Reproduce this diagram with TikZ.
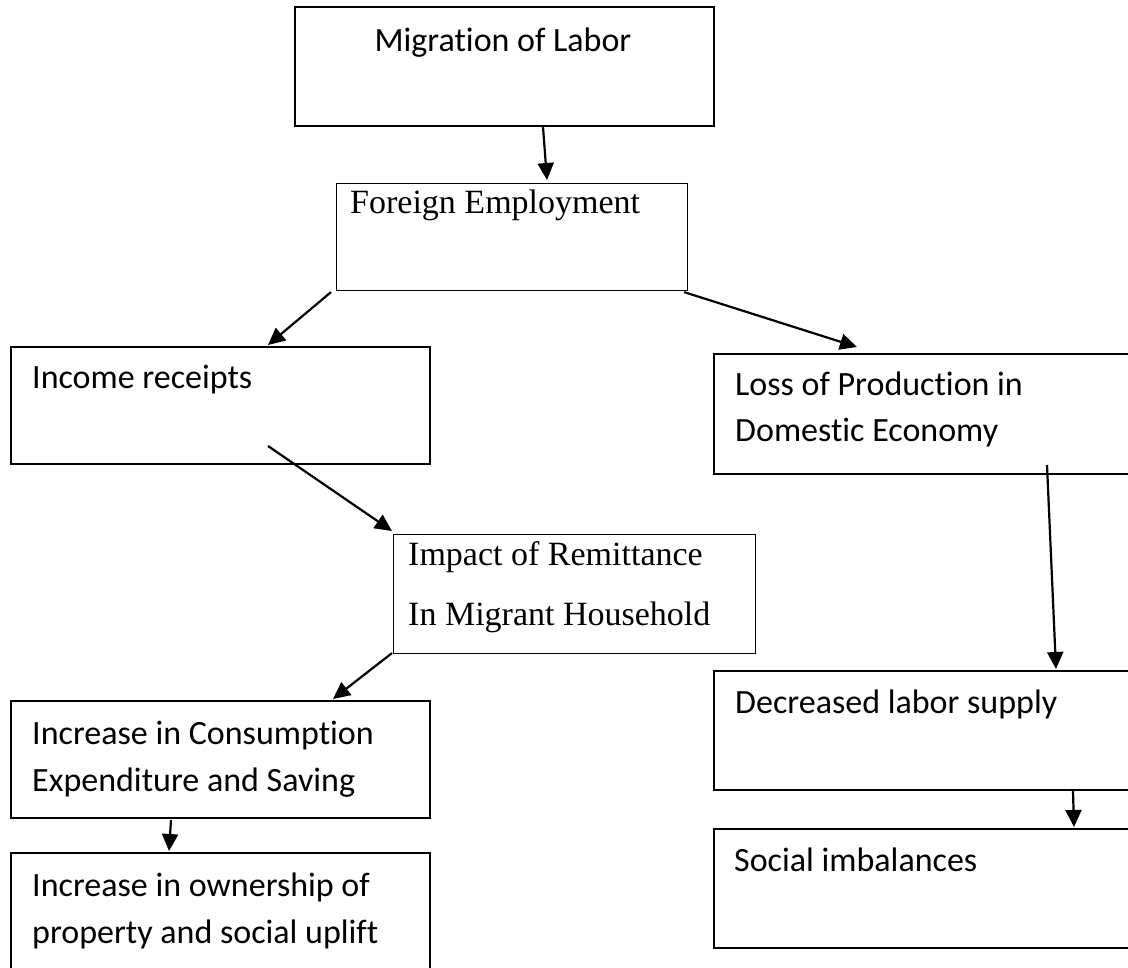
\documentclass[tikz,border=0pt]{standalone}
\usepackage{fontspec}
\setmainfont{Carlito}[RawFeature={-liga;-clig;-dlig}]
\newfontfamily\tnrfont{Liberation Serif}
\usetikzlibrary{arrows.meta,calc}
\begin{document}
\begin{tikzpicture}[x=1pt,y=-1pt,
  box/.style={draw=black,line width=2pt,inner sep=0pt},
  thinbox/.style={draw=black,line width=1.1pt,inner sep=0pt},
  txt/.style={inner sep=0pt,anchor=base west,align=left,font=\fontsize{34}{47}\selectfont},
  serif/.style={inner sep=0pt,anchor=base west,align=left,font=\tnrfont\fontsize{34}{60}\selectfont},
  arr/.style={line width=2.2pt,-{Triangle[length=17pt,width=16pt]}}]
\useasboundingbox[fill=white] (0,0) rectangle (1128,968);
% boxes
\node[box,anchor=north west,minimum width=419pt,minimum height=119pt] (mig) at (294,6) {};
\node[thinbox,anchor=north west,minimum width=351pt,minimum height=107pt] (fe) at (336,183) {};
\node[box,anchor=north west,minimum width=419pt,minimum height=117pt] (inc) at (10,346) {};
\node[box,anchor=north west,minimum width=430pt,minimum height=120pt] (loss) at (713,353) {};
\node[thinbox,anchor=north west,minimum width=362pt,minimum height=119pt] (imp) at (393,534) {};
\node[box,anchor=north west,minimum width=419pt,minimum height=117pt] (cons) at (10,700) {};
\node[box,anchor=north west,minimum width=419pt,minimum height=140pt] (own) at (10,852) {};
\node[box,anchor=north west,minimum width=430pt,minimum height=119pt] (dec) at (713,670) {};
\node[box,anchor=north west,minimum width=430pt,minimum height=119pt] (soc) at (713,828) {};
% texts (base anchor of multi-line nodes is the last line's baseline)
\node[txt,anchor=base] (tmig) at (503,52) {Migration of Labor};
\node[serif] (tfe) at (350,214) {Foreign Employment};
\node[txt] (tinc) at (32,389) {Income receipts};
\node[txt] (tloss) at (735,442) {Loss of Production in\\Domestic Economy};
\node[serif] (timp) at (408,625) {Impact of Remittance\\In Migrant Household};
\node[txt] (tcons) at (32,791) {Increase in Consumption\\Expenditure and Saving};
\node[txt] (town) at (32,943) {Increase in ownership of\\property and social uplift};
\node[txt] (tdec) at (735,713) {Decreased labor supply};
\node[txt] (tsoc) at (734,871) {Social imbalances};
% connector ends
\coordinate (a1s) at ($(mig.south west)+(249,0)$);
\coordinate (a1e) at ($(fe.north west)+(211,-3)$);
\coordinate (a2s) at ($(fe.south west)+(-5,1)$);
\coordinate (a2e) at ($(inc.north west)+(258,-1)$);
\coordinate (a3s) at ($(fe.south east)+(-4,1)$);
\coordinate (a3e) at ($(loss.north west)+(144,-6)$);
\coordinate (a4s) at ($(inc.north west)+(258,100)$);
\coordinate (a4e) at ($(imp.north west)+(-1,-3)$);
\coordinate (a5s) at ($(imp.south west)+(-1,-1)$);
\coordinate (a5e) at ($(cons.north west)+(323,-1)$);
\coordinate (a6s) at ($(loss.north west)+(334,112)$);
\coordinate (a6e) at ($(dec.north west)+(343,-1)$);
\coordinate (a7s) at ($(cons.south west)+(161,1)$);
\coordinate (a7e) at ($(own.north west)+(159,-1)$);
\coordinate (a8s) at ($(dec.south west)+(360,0)$);
\coordinate (a8e) at ($(soc.north west)+(361,-1)$);
% connectors
\draw[arr] (a1s) -- (a1e);
\draw[arr] (a2s) -- (a2e);
\draw[arr] (a3s) -- (a3e);
\draw[arr] (a4s) -- (a4e);
\draw[arr] (a5s) -- (a5e);
\draw[arr] (a6s) -- (a6e);
\draw[arr] (a7s) -- (a7e);
\draw[arr] (a8s) -- (a8e);
\end{tikzpicture}
\end{document}
